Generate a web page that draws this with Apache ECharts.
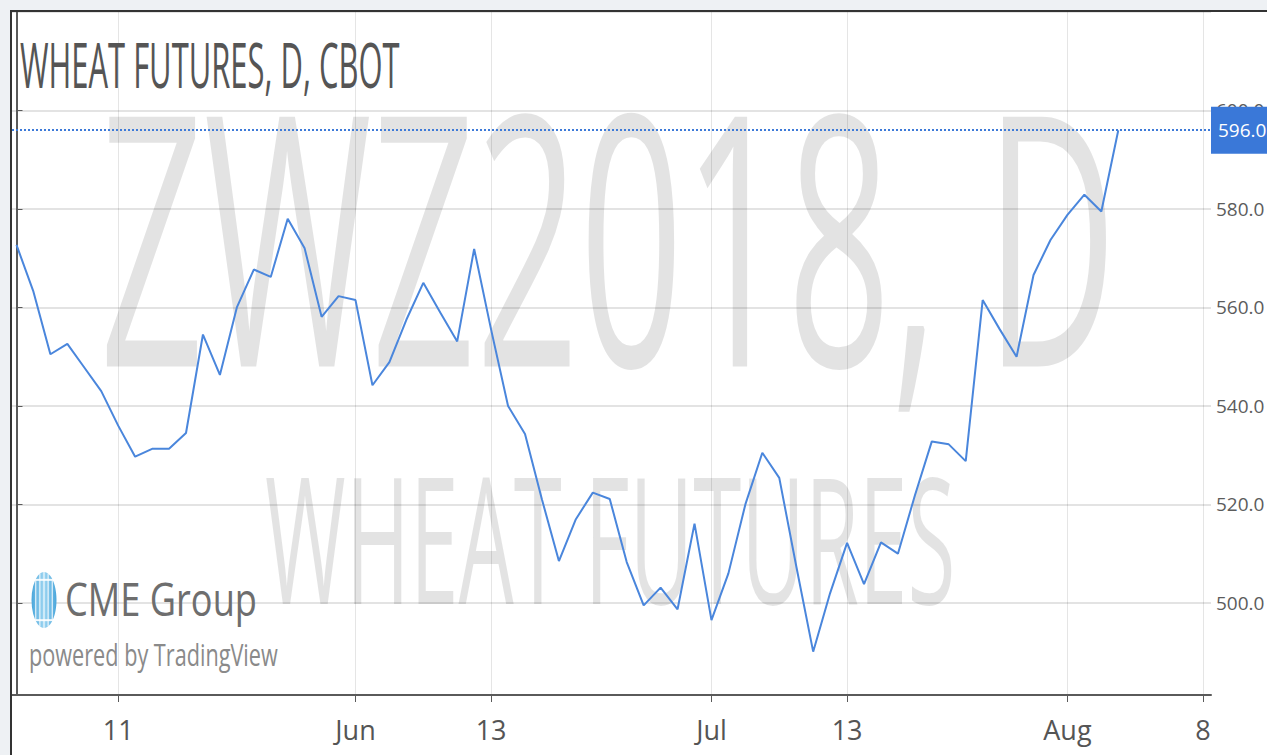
<!DOCTYPE html>
<html><head><meta charset="utf-8">
<script src="https://cdn.jsdelivr.net/npm/echarts@6/dist/echarts.min.js"></script>
<style>html,body{margin:0;padding:0;background:#fff;overflow:hidden}#c{width:1267px;height:755px}</style>
</head><body><div id="c"></div>
<script>
// ---- data ----
const tradingDays = ['2018-05-03','2018-05-04','2018-05-07','2018-05-08','2018-05-09','2018-05-10','2018-05-11','2018-05-14','2018-05-15','2018-05-16','2018-05-17','2018-05-18','2018-05-21','2018-05-22','2018-05-23','2018-05-24','2018-05-25','2018-05-29','2018-05-30','2018-05-31','2018-06-01','2018-06-04','2018-06-05','2018-06-06','2018-06-07','2018-06-08','2018-06-11','2018-06-12','2018-06-13','2018-06-14','2018-06-15','2018-06-18','2018-06-19','2018-06-20','2018-06-21','2018-06-22','2018-06-25','2018-06-26','2018-06-27','2018-06-28','2018-06-29','2018-07-02','2018-07-03','2018-07-05','2018-07-06','2018-07-09','2018-07-10','2018-07-11','2018-07-12','2018-07-13','2018-07-16','2018-07-17','2018-07-18','2018-07-19','2018-07-20','2018-07-23','2018-07-24','2018-07-25','2018-07-26','2018-07-27','2018-07-30','2018-07-31','2018-08-01','2018-08-02','2018-08-03','2018-08-06'];
const prices = [572.7,563.2,550.5,552.6,547.8,543.0,536.0,529.7,531.3,531.3,534.5,554.5,546.3,560.0,567.7,566.2,578.0,572.0,558.1,562.3,561.5,544.2,548.9,557.5,565.0,559.0,553.1,571.9,555.5,540.0,534.3,521.0,508.5,517.0,522.4,521.1,508.3,499.5,503.1,498.7,516.1,496.5,506.0,520.0,530.5,525.4,507.5,490.1,502.0,512.2,503.8,512.3,510.0,521.8,532.8,532.2,528.8,561.5,555.6,550.0,566.6,573.7,578.8,582.9,579.5,596.0];
const xTickIndex = [6, 20, 28, 41, 49, 62, 70];
const xTickLabels = ['11', 'Jun', '13', 'Jul', '13', 'Aug', '8'];
const titleText = 'WHEAT FUTURES, D, CBOT';
const watermarkMain = 'ZWZ2018, D';
const watermarkSub = 'WHEAT FUTURES';
const brandText = 'CME Group';
const poweredText = 'powered by TradingView';

// ---- helpers ----
const mctx = document.createElement('canvas').getContext('2d');
const FONT = '"Open Sans", "DejaVu Sans", sans-serif';
function fitText(text, left, capCenterY, width, size, fill, z) {
  mctx.font = size + 'px ' + FONT;
  const w = mctx.measureText(text).width;
  return {
    type: 'text', x: left, y: capCenterY - 0.02 * size, scaleX: width / w, z: z, silent: true,
    style: { text: text, x: 0, y: 0, align: 'left', verticalAlign: 'middle', fontSize: size, fontFamily: FONT, fill: fill }
  };
}
function globe(cx, cy, rx, ry) {
  const els = [{ type: 'circle', x: cx, y: cy, scaleX: rx / ry, z: 5, silent: true,
    shape: { cx: 0, cy: 0, r: ry },
    style: { fill: { type: 'linear', x: 0, y: 0, x2: 1, y2: 0, colorStops: [{offset: 0, color: '#4aa6db'}, {offset: 0.5, color: '#9fd6f2'}, {offset: 1, color: '#4aa6db'}] } } }];
  const offs = [-0.66, -0.33, 0, 0.33, 0.66];
  offs.forEach(o => {
    const hy = ry * Math.sqrt(1 - o * o);
    els.push({ type: 'line', z: 6, silent: true, shape: { x1: cx + o * rx, y1: cy - hy, x2: cx + o * rx, y2: cy + hy }, style: { stroke: 'rgba(255,255,255,0.85)', lineWidth: 1.2 } });
  });
  [-0.72, 0.72].forEach(o => {
    const hx = rx * Math.sqrt(1 - o * o);
    els.push({ type: 'line', z: 6, silent: true, shape: { x1: cx - hx, y1: cy + o * ry, x2: cx + hx, y2: cy + o * ry }, style: { stroke: 'rgba(255,255,255,0.9)', lineWidth: 2 } });
  });
  return els;
}

const chart = echarts.init(document.getElementById('c'), null, { renderer: 'svg' });
const lastPrice = prices[prices.length - 1];
const AXIS_FONT = '"Open Sans", sans-serif';

const option = {
  animation: false,
  backgroundColor: '#ffffff',
  grid: { left: 12, right: 56, top: 12, bottom: 60, containLabel: false, outerBoundsMode: 'none' },
  xAxis: {
    type: 'value', min: -0.265, max: 70.47,
    axisLine: { show: true, onZero: false, lineStyle: { color: '#5a5a5a', width: 2 } },
    axisTick: { show: true, customValues: xTickIndex, length: 7, lineStyle: { color: '#5a5a5a', width: 1 } },
    axisLabel: { customValues: xTickIndex, formatter: v => xTickLabels[xTickIndex.indexOf(v)], fontFamily: AXIS_FONT, fontSize: 27, color: '#555', margin: 21 },
    splitLine: { show: true, lineStyle: { color: 'rgba(0,0,0,0.10)', width: 1 } }
  },
  yAxis: {
    type: 'value', position: 'right', min: 481.3, max: 620, splitNumber: 7, scale: true,
    axisLine: { show: true, lineStyle: { color: '#5a5a5a', width: 2 } },
    axisTick: { show: true, length: 6, lineStyle: { color: '#5a5a5a' } },
    axisLabel: { formatter: v => v.toFixed(1), showMinLabel: false, showMaxLabel: false, fontFamily: AXIS_FONT, fontSize: 19, color: '#5c5c5c', margin: 5 },
    splitLine: { show: true, lineStyle: { color: 'rgba(0,0,0,0.11)', width: 2 } }
  },
  series: [{
    type: 'line', name: 'ZWZ2018', z: 10,
    data: prices.map((p, i) => [i, p]),
    showSymbol: false, symbol: 'none',
    lineStyle: { color: '#4a86dc', width: 2 },
    markLine: {
      silent: true, symbol: 'none', animation: false, z: 20,
      data: [{ yAxis: lastPrice }],
      lineStyle: { type: [2, 2], color: '#3d7ad8', width: 2 },
      label: { show: true, position: 'end', distance: 0, formatter: lastPrice.toFixed(1),
        color: '#fff', backgroundColor: '#3a78d8', fontFamily: AXIS_FONT, fontSize: 19, padding: [14, 8, 14, 7] }
    }
  }],
  graphic: [
    fitText(watermarkMain, 100, 238, 1018, 350, 'rgba(0,0,0,0.11)', -5),
    fitText(watermarkSub, 265, 540, 690, 175, 'rgba(0,0,0,0.11)', -5),
    fitText(titleText, 20, 65, 380, 63, '#555555', 5),
    ...globe(44, 600, 12.5, 28),
    fitText(brandText, 65, 599, 192, 45, '#6e6e6e', 5),
    fitText(poweredText, 29, 654, 249, 31, '#8a8a8a', 5),
    { type: 'rect', z: 50, silent: true, shape: { x: 0, y: 0, width: 1267, height: 10 }, style: { fill: '#eef1f4' } },
    { type: 'rect', z: 50, silent: true, shape: { x: 0, y: 0, width: 10, height: 755 }, style: { fill: '#eef1f4' } },
    { type: 'line', z: 51, silent: true, shape: { x1: 10, y1: 11, x2: 1267, y2: 11 }, style: { stroke: '#333', lineWidth: 2 } },
    { type: 'line', z: 51, silent: true, shape: { x1: 11, y1: 10, x2: 11, y2: 755 }, style: { stroke: '#333', lineWidth: 2 } }
  ]
};
chart.setOption(option);
</script>
</body></html>
